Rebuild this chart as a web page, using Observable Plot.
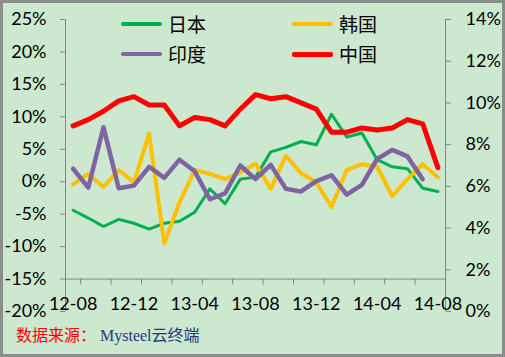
<!DOCTYPE html>
<html><head><meta charset="utf-8">
<script src="https://cdn.jsdelivr.net/npm/d3@7"></script>
<script src="https://cdn.jsdelivr.net/npm/@observablehq/plot@0.6"></script>
<style>
body{margin:0;}
#frame{position:absolute;left:0;top:0;width:505px;height:357px;box-sizing:border-box;border:3px solid #8c8c8c;background:#cce8cf;}
#chart{position:absolute;left:0;top:0;}
.leg{position:absolute;font-family:"Noto Sans CJK SC";font-size:19px;line-height:20px;height:20px;display:flex;align-items:center;color:#000;}
.sw{display:inline-block;width:41px;border-radius:2px;margin-right:6px;}
#caption{position:absolute;left:16px;top:325px;font-size:16px;line-height:22px;white-space:nowrap;}
#caption .a{color:#ff0000;font-family:"Liberation Serif","Noto Sans CJK SC";}
#caption .b{color:#1f3a7a;font-family:"Liberation Serif","Noto Sans CJK SC";}
</style></head>
<body>
<div id="frame"></div>
<div id="chart"></div>
<div id="legend"></div>
<div id="caption"><span class="a">数据来源：</span> <span class="b">Mysteel云终端</span></div>
<script>
const months = ["12-08","12-09","12-10","12-11","12-12","13-01","13-02","13-03","13-04","13-05","13-06","13-07","13-08","13-09","13-10","13-11","13-12","14-01","14-02","14-03","14-04","14-05","14-06","14-07","14-08"];
const japan = [-4.4,-5.6,-6.9,-5.8,-6.4,-7.3,-6.4,-6.1,-4.7,-1.1,-3.4,0.4,0.7,4.6,5.3,6.2,5.7,10.4,6.9,7.5,3.4,2.3,2.0,-1.0,-1.5];
const korea = [-0.4,1.2,-0.8,1.8,-0.1,7.4,-9.5,-3.2,1.8,1.2,0.4,1.4,2.8,-1.1,4.0,1.3,-0.1,-3.9,1.8,2.7,2.3,-2.2,0.4,2.7,0.7];
const india = [2.0,-0.9,8.4,-1.0,-0.6,2.3,0.6,3.4,1.6,-2.7,-1.8,2.5,0.4,2.6,-1.1,-1.5,0.1,1.0,-2.0,-0.5,3.5,4.9,3.9,0.4,null];
const china = [8.9,9.2,9.6,10.1,10.3,9.9,9.9,8.9,9.3,9.2,8.9,9.7,10.4,10.2,10.3,10.0,9.7,8.6,8.6,8.8,8.7,8.8,9.2,9.0,6.9];
const seriesNames = ["日本","韩国","印度","中国"];
const seriesColors = ["#00b050","#ffc000","#8064a2","#ff0000"];
const seriesWidths = [3,4,4.5,5];
const leftTicks = [-20,-15,-10,-5,0,5,10,15,20,25];
const rightTicks = [0,2,4,6,8,10,12,14];
const xAxisCross = -15;

const L0 = leftTicks[0], L1 = leftTicks[leftTicks.length-1];
const R0 = rightTicks[0], R1 = rightTicks[rightTicks.length-1];
const toLeft = r => L0 + (r - R0) * (L1 - L0) / (R1 - R0);
const toRight = l => R0 + (l - L0) * (R1 - R0) / (L1 - L0);
const xDom = [-0.5, months.length - 0.5];
const idx = months.map((m,i)=>i);
const minorTicks = idx.filter(i => i % 2 === 1).map(i => i - 0.5).concat([xDom[0]]);
const labelIdx = idx.filter(i => i % 4 === 0);

function rowsOf(arr, map = v => v) {
  return arr.map((v,i)=>({i, v: v == null ? null : map(v)})).filter(d => d.v != null);
}
const allSeries = [japan, korea, india, china];
const axisColor = "#868686";

const chart = Plot.plot({
  width: 505, height: 320,
  marginLeft: 65, marginRight: 60, marginTop: 19, marginBottom: 9,
  style: {background: "transparent", fontFamily: "Lato, 'Liberation Sans', sans-serif", fontSize: "18px", color: "#000"},
  x: {domain: xDom, axis: null},
  y: {domain: [L0, L1], axis: null},
  marks: [
    Plot.ruleX([xDom[0]], {y1: L0, y2: L1, stroke: axisColor}),
    Plot.ruleX([xDom[1]], {y1: L0, y2: L1, stroke: axisColor}),
    Plot.ruleY([xAxisCross], {x1: xDom[0], x2: xDom[1], stroke: axisColor}),
    Plot.ruleX(minorTicks, {y1: xAxisCross, y2: xAxisCross, insetBottom: -6, stroke: axisColor}),
    Plot.text(labelIdx, {x: d => d, y: xAxisCross, text: d => months[d], dy: 25, fill: "#000", fontSize: 18}),
    Plot.axisY(leftTicks, {anchor: "left", label: null, tickSize: 5, tickPadding: 14, stroke: axisColor, fill: "#000", tickFormat: d => d + "%", fontSize: 18}),
    Plot.axisY(rightTicks.map(toLeft), {anchor: "right", label: null, tickSize: 5, tickPadding: 15, stroke: axisColor, fill: "#000", tickFormat: d => Math.round(toRight(d)) + "%", fontSize: 18}),
    ...[0,1,2].map(k => Plot.line(rowsOf(allSeries[k]), {x: "i", y: "v", stroke: seriesColors[k], strokeWidth: seriesWidths[k], strokeLinejoin: "round", strokeLinecap: "round"})),
    Plot.line(rowsOf(china, toLeft), {x: "i", y: "v", stroke: seriesColors[3], strokeWidth: seriesWidths[3], strokeLinejoin: "round", strokeLinecap: "round"})
  ]
});
document.getElementById("chart").appendChild(chart);

const legPos = [[121,14],[292,14],[121,44],[292,44]];
const leg = document.getElementById("legend");
seriesNames.forEach((n,k) => {
  const d = document.createElement("div");
  d.className = "leg";
  d.style.left = legPos[k][0] + "px";
  d.style.top = legPos[k][1] + "px";
  const s = document.createElement("span");
  s.className = "sw";
  s.style.height = Math.max(4, seriesWidths[k]) + "px";
  s.style.background = seriesColors[k];
  d.appendChild(s);
  d.appendChild(document.createTextNode(n));
  leg.appendChild(d);
});
</script>
</body></html>
